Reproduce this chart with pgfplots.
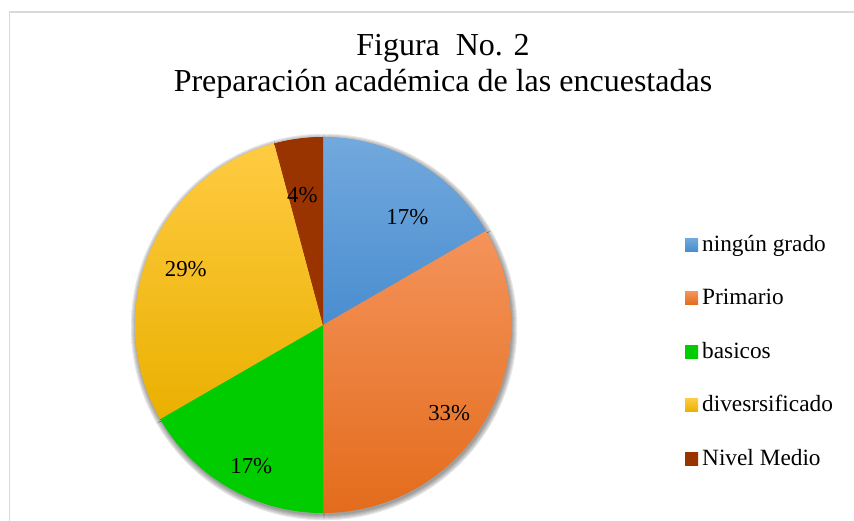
\documentclass[border=0pt]{standalone}
\usepackage{fontspec}
\setmainfont{Liberation Serif}
\usepackage{pgfplots}
\pgfplotsset{compat=1.18}

\definecolor{ningT}{HTML}{72A9DD}
\definecolor{ningM}{HTML}{5B9BD5}
\definecolor{ningB}{HTML}{4A8DD0}
\definecolor{primT}{HTML}{F4935A}
\definecolor{primM}{HTML}{EF7F33}
\definecolor{primB}{HTML}{E36C1C}
\definecolor{basiT}{HTML}{00CC00}
\definecolor{basiM}{HTML}{00CC00}
\definecolor{basiB}{HTML}{00CC00}
\definecolor{diveT}{HTML}{FFCB42}
\definecolor{diveM}{HTML}{FFC000}
\definecolor{diveB}{HTML}{EAB000}
\definecolor{niveT}{HTML}{993300}
\definecolor{niveM}{HTML}{993300}
\definecolor{niveB}{HTML}{993300}
\definecolor{frame}{HTML}{D9D9D9}

\begin{document}
\begin{tikzpicture}
\begin{axis}[
  at={(0,0)}, anchor=south west,
  scale only axis, width=854pt, height=520pt,
  xmin=0, xmax=854, ymin=0, ymax=520,
  hide axis, clip=false,
  title={Figura\ \ No. 2\\Preparación académica de las encuestadas},
  title style={font=\fontsize{32}{36}\selectfont, align=center, inner sep=0pt,
    anchor=north, at={(0.5187,0.9225)}},
  legend cell align=left,
  legend style={draw=none, fill=none, inner sep=0pt,
    at={(0.8021,0.5487)}, anchor=north west,
    row sep=32.1pt, column sep=4pt,
    font=\fontsize{23.3}{28}\selectfont,
    nodes={inner sep=0pt, text height=16.3pt, text depth=5.1pt}},
  legend image code/.code={\shade[#1, draw=none] (0pt,-5.6pt) rectangle (13pt,7.4pt);},
]
% count = respondents in the slice, start = respondents before it (total 24)
% pie centre sits at (323,195); lr/la place the percentage label
\addplot[forget plot, only marks, mark=*, mark size=0pt, scatter,
  visualization depends on={value \thisrow{count} \as \cnt},
  visualization depends on={value \thisrow{start} \as \st},
  visualization depends on={value \thisrow{col} \as \col},
  scatter/@pre marker code/.code={
    \pgfmathsetmacro\aa{90-15*\st}
    \pgfmathsetmacro\bb{90-15*(\st+\cnt)}
    \foreach \k in {1,...,6}{
      \fill[black, opacity=0.075] (1pt,-2pt) -- ++(\aa:{(187+\k)*1pt})
        arc[start angle=\aa, end angle=\bb, radius={(187+\k)*1pt}] -- cycle;
    }
    \fill[\col M] (0pt,0pt) -- (\aa:187.5pt)
      arc[start angle=\aa, end angle=\bb, radius=187.5pt] -- cycle;
  },
  scatter/@post marker code/.code={}]
  table[x=x, y=y] {
x   y   count start col
323 195 4     0     ning
323 195 8     4     prim
323 195 4     12    basi
323 195 7     16    dive
323 195 1     23    nive
};
\addplot[forget plot, only marks, mark=*, mark size=0pt, scatter,
  visualization depends on={value \thisrow{count} \as \cnt},
  visualization depends on={value \thisrow{start} \as \st},
  visualization depends on={value \thisrow{lr} \as \lr},
  visualization depends on={value \thisrow{la} \as \la},
  visualization depends on={value \thisrow{col} \as \col},
  scatter/@pre marker code/.code={
    \pgfmathsetmacro\aa{90-15*\st}
    \pgfmathsetmacro\bb{90-15*(\st+\cnt)}
    \pgfmathtruncatemacro\pc{round(100*\cnt/24)}
    \shade[draw=none, top color=\col T, middle color=\col M, bottom color=\col B]
      (0pt,0pt) -- (\aa:188pt)
      arc[start angle=\aa, end angle=\bb, radius=188pt] -- cycle;
    \node[font=\fontsize{22.8}{27}\selectfont, inner sep=0pt] at (\la:\lr pt) {\pc\%};
  },
  scatter/@post marker code/.code={}]
  table[x=x, y=y] {
x   y   count start lr  la   col
323 195 4     0     137 52   ning
323 195 8     4     154 -35  prim
323 195 4     12    158 -117 basi
323 195 7     16    148 158  dive
323 195 1     23    132 99   nive
};

\addlegendimage{top color=ningT, middle color=ningM, bottom color=ningB}
\addlegendentry{ningún grado}
\addlegendimage{top color=primT, middle color=primM, bottom color=primB}
\addlegendentry{Primario}
\addlegendimage{top color=basiT, middle color=basiM, bottom color=basiB}
\addlegendentry{basicos}
\addlegendimage{top color=diveT, middle color=diveM, bottom color=diveB}
\addlegendentry{divesrsificado}
\addlegendimage{top color=niveT, middle color=niveM, bottom color=niveB}
\addlegendentry{Nivel Medio}
\end{axis}
\draw[frame, line width=1.5pt] (9.5pt,-10pt) rectangle (870pt,508pt);
\pgfresetboundingbox
\useasboundingbox (0,0) rectangle (854pt,520pt);
\end{tikzpicture}
\end{document}
